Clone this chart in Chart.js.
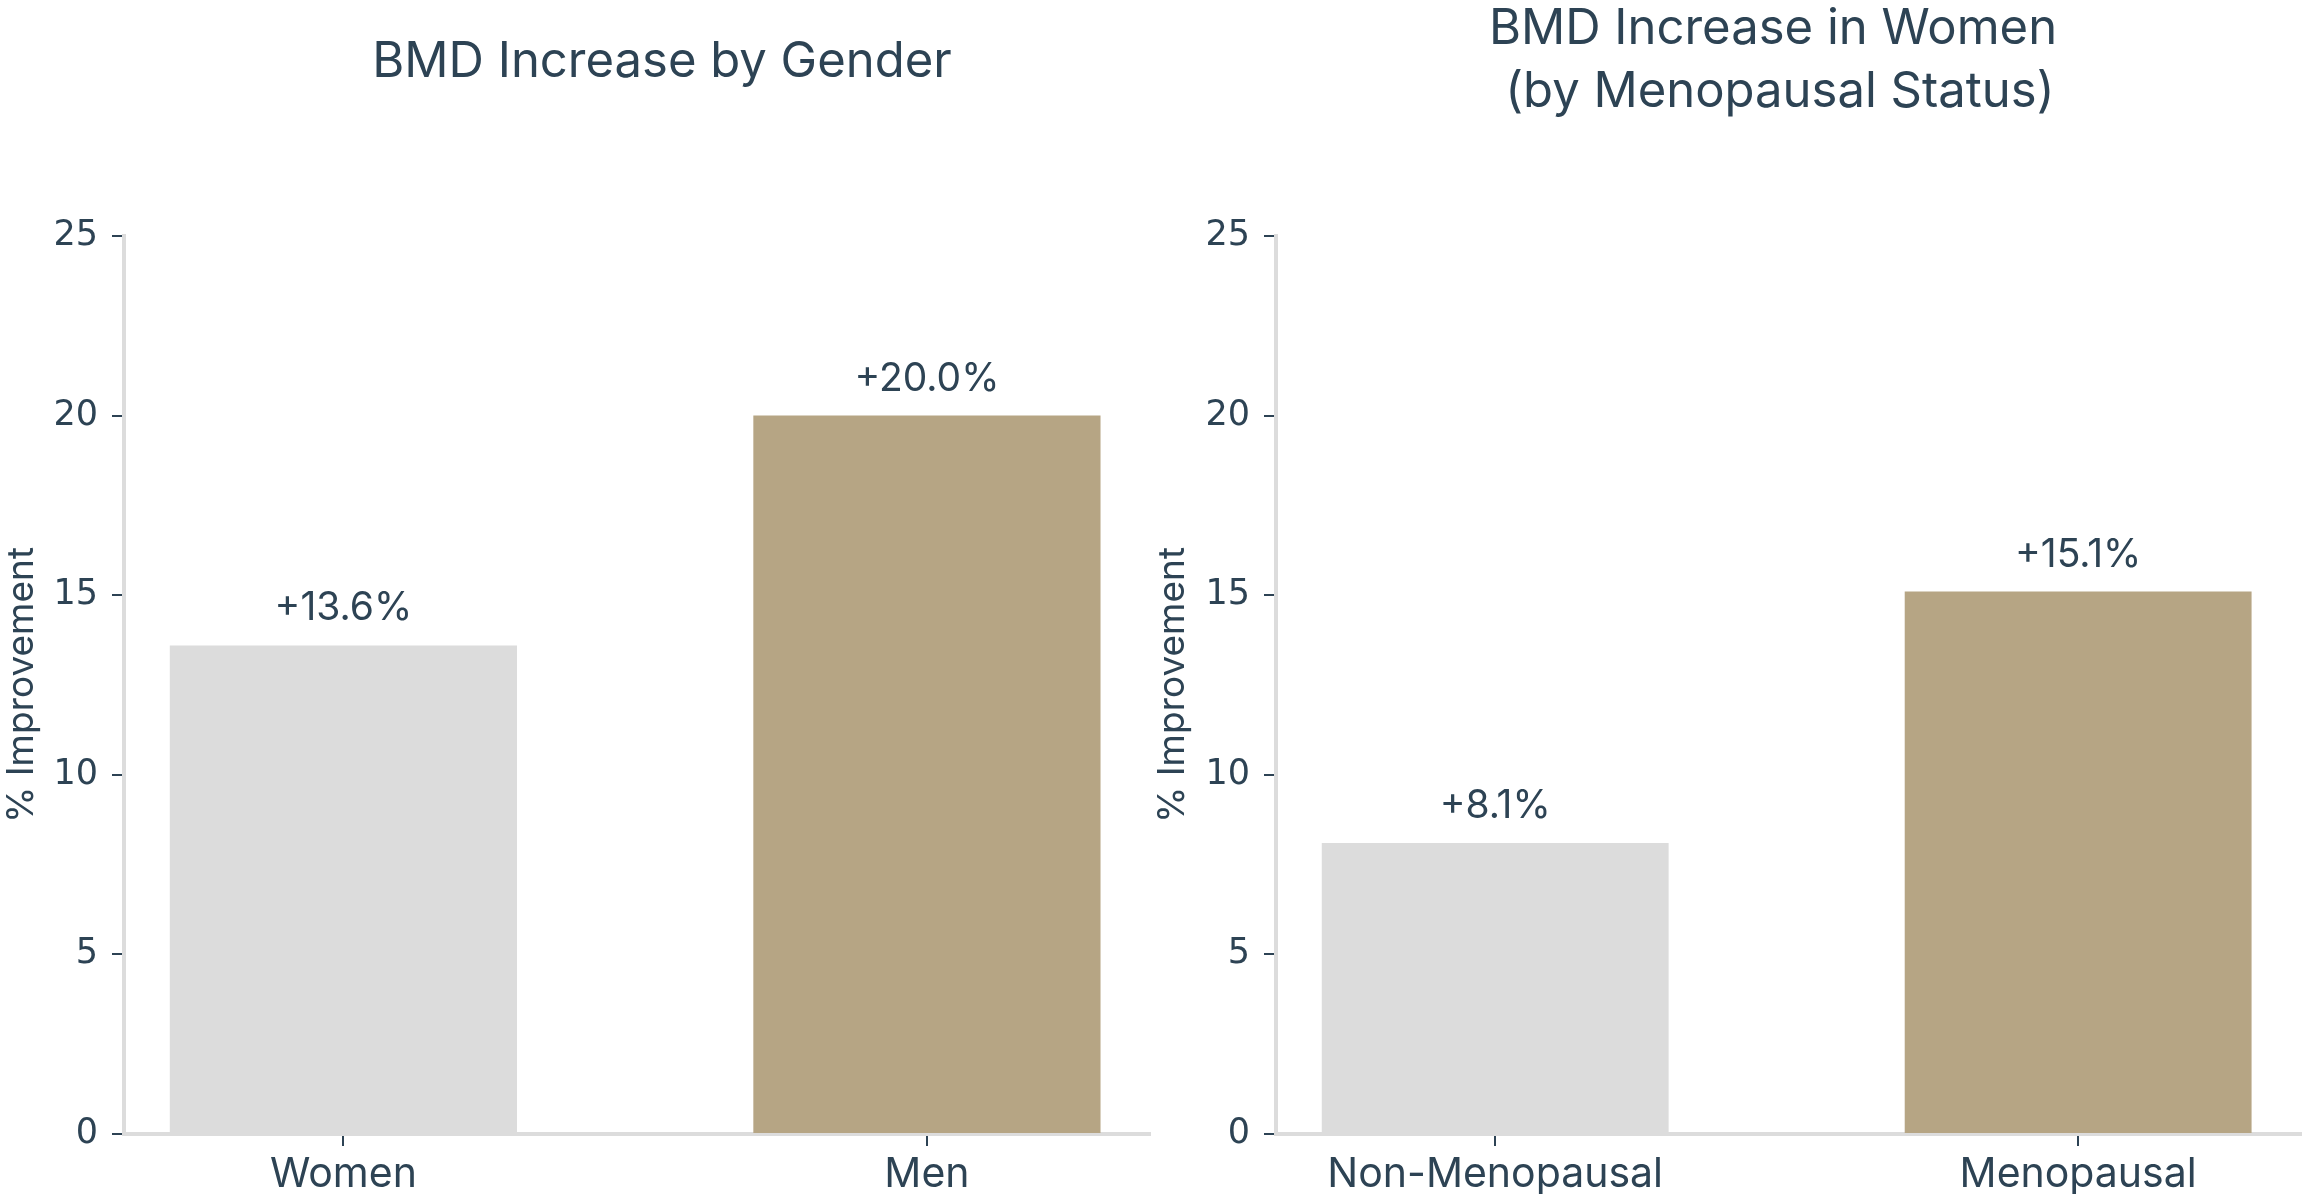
<!DOCTYPE html>
<html>
<head>
<meta charset="utf-8">
<title>BMD Increase</title>
<script src="https://cdn.jsdelivr.net/npm/chart.js@4.4.1/dist/chart.umd.min.js"></script>
<style>
  body { margin: 0; background: #fff; }
  #wrap { display: flex; width: 2302px; height: 1194px; }
  canvas { display: block; }
</style>
</head>
<body>
<div id="wrap">
  <canvas id="gender-chart" width="1151" height="1194"></canvas>
  <canvas id="status-chart" width="1151" height="1194"></canvas>
</div>
<script>
// datos
const genderLabels = ["Women", "Men"]
const genderValues = [13.6, 20.0]
const statusLabels = ["Non-Menopausal", "Menopausal"]
const statusValues = [8.1, 15.1]
const barColors = ["#dcdcdc", "#b6a584"]
const yTicks = [0, 5, 10, 15, 20, 25]
const genderTitle = ["BMD Increase by Gender"]
const statusTitle = ["BMD Increase in Women", " (by Menopausal Status)"]
const yTitle = "% Improvement"

const textColor = "#2d4354"
const fontFamily = "Inter, 'Noto Sans', sans-serif"
Chart.defaults.font.family = fontFamily
Chart.defaults.color = textColor

// titulo de cada panel
const panelTitle = {
  id: "panelTitle",
  afterDraw(chart, args, opts) {
    const ctx = chart.ctx
    ctx.save()
    ctx.fillStyle = textColor
    ctx.font = "49px " + fontFamily
    ctx.textAlign = "center"
    ctx.textBaseline = "alphabetic"
    opts.lines.forEach((line, i) => ctx.fillText(line, opts.x, opts.y + i * 63))
    ctx.restore()
  }
}

// etiquetas "+x.x%" encima de cada barra
const valueLabels = {
  id: "valueLabels",
  afterDatasetsDraw(chart) {
    const ctx = chart.ctx
    const meta = chart.getDatasetMeta(0)
    const data = chart.data.datasets[0].data
    ctx.save()
    ctx.fillStyle = textColor
    ctx.font = "39px " + fontFamily
    ctx.textAlign = "center"
    ctx.textBaseline = "alphabetic"
    meta.data.forEach((bar, i) => {
      ctx.fillText("+" + data[i].y.toFixed(1) + "%", bar.x, bar.y - 25)
    })
    ctx.restore()
  }
}

function makeConfig(labels, values, title, titleX, titleY, axisWidth) {
  return {
    type: "bar",
    data: {
      datasets: [{
        data: values.map((v, i) => ({ x: i, y: v })),
        backgroundColor: barColors,
        borderWidth: 0,
        categoryPercentage: 0.595,
        barPercentage: 1
      }]
    },
    options: {
      responsive: false,
      animation: false,
      layout: { padding: { top: 236, right: 0, bottom: 0, left: 0 } },
      plugins: {
        legend: { display: false },
        tooltip: { enabled: false },
        panelTitle: { lines: title, x: titleX, y: titleY }
      },
      scales: {
        x: {
          type: "linear",
          min: -0.376,
          max: 1.384,
          offset: false,
          afterBuildTicks: (scale) => { scale.ticks = labels.map((l, i) => ({ value: i })) },
          afterFit: (scale) => { scale.height = 60 },
          ticks: {
            callback: (value, index) => labels[index],
            font: { size: 41 },
            padding: 4,
            maxRotation: 0
          },
          grid: { offset: false, drawOnChartArea: false, tickLength: 12, color: textColor, lineWidth: 2 },
          border: { color: "#dcdcdc", width: 4 }
        },
        y: {
          min: 0,
          max: 25,
          afterBuildTicks: (scale) => { scale.ticks = yTicks.map(v => ({ value: v })) },
          afterFit: (scale) => { scale.width = axisWidth },
          ticks: { font: { size: 35, family: "'DejaVu Sans', sans-serif" }, padding: 14 },
          title: { display: true, text: yTitle, font: { size: 37 }, padding: 0 },
          grid: { drawOnChartArea: false, tickLength: 12, color: textColor, lineWidth: 2 },
          border: { color: "#dcdcdc", width: 4 }
        }
      }
    },
    plugins: [panelTitle, valueLabels]
  }
}

const genderChart = new Chart(
  document.querySelector("#gender-chart").getContext("2d"),
  makeConfig(genderLabels, genderValues, genderTitle, 662, 77, 124)
)

const statusChart = new Chart(
  document.querySelector("#status-chart").getContext("2d"),
  makeConfig(statusLabels, statusValues, statusTitle, 622, 44, 125)
)
</script>
</body>
</html>
